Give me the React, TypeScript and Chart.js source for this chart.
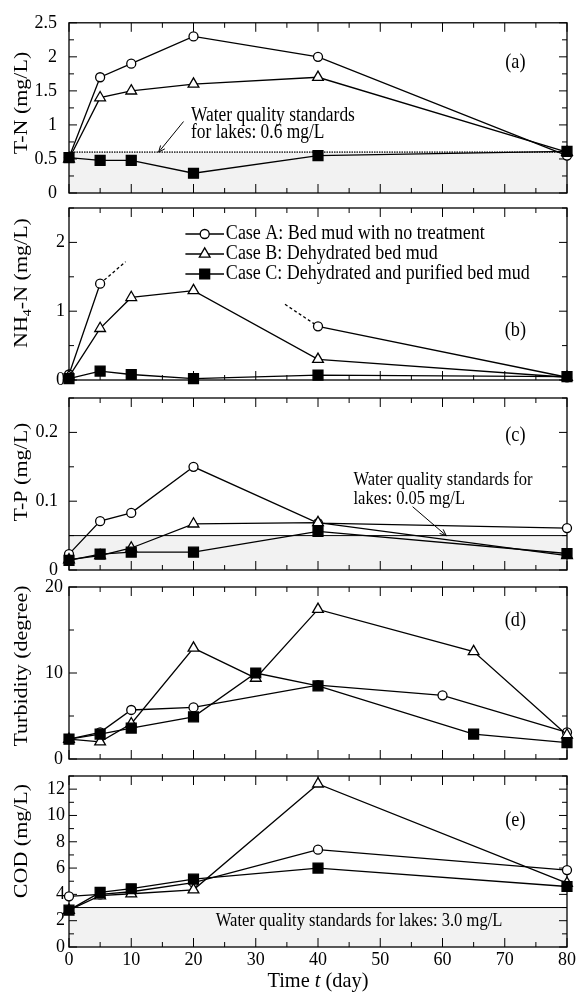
import React, { useEffect, useRef } from 'react';
import { Chart, registerables } from 'chart.js';

Chart.register(...registerables);

// ---------------- data ----------------
const DAYS = [0, 5, 10, 20, 40, 80];

const TN_A = [0.52, 1.7, 1.9, 2.3, 2.0, 0.55];
const TN_B = [0.5, 1.4, 1.5, 1.6, 1.7, 0.6];
const TN_C = [0.52, 0.48, 0.48, 0.29, 0.55, 0.61];
const STD_TN = 0.6;

const NH4_A = [0.08, 1.4, null, null, 0.78, 0.04];
const NH4_B = [0.05, 0.75, 1.2, 1.3, 0.3, 0.04];
const NH4_C = [0.02, 0.13, 0.08, 0.02, 0.07, 0.05];
// dashed continuations of Case A (values off the scale)
const NH4_A_UP_DAYS = [5, 9.1];
const NH4_A_UP = [1.4, 1.72];
const NH4_A_DOWN_DAYS = [34.7, 40];
const NH4_A_DOWN = [1.1, 0.78];

const TP_A = [0.023, 0.071, 0.083, 0.15, 0.068, 0.061];
const TP_B = [0.015, 0.021, 0.032, 0.067, 0.069, 0.021];
const TP_C = [0.014, 0.023, 0.026, 0.026, 0.056, 0.024];
const STD_TP = 0.05;

const TURB_A_DAYS = [0, 5, 10, 20, 40, 60, 80];
const TURB_A = [2.3, 3.1, 5.7, 6.0, 8.6, 7.4, 3.1];
const TURB_BC_DAYS = [0, 5, 10, 20, 30, 40, 65, 80];
const TURB_B = [2.3, 2.0, 4.1, 12.9, 9.4, 17.4, 12.5, 2.8];
const TURB_C = [2.3, 2.9, 3.6, 4.9, 10.0, 8.5, 2.9, 1.9];

const COD_A = [3.85, 4.0, 4.2, 4.9, 7.4, 5.85];
const COD_B = [2.8, 3.9, 4.05, 4.35, 12.4, 4.85];
const COD_C = [2.8, 4.15, 4.43, 5.16, 6.0, 4.6];
const STD_COD = 3.0;

const X_TICKS = [0, 10, 20, 30, 40, 50, 60, 70, 80];
const Y_TICKS_TN = [0, 0.5, 1, 1.5, 2, 2.5];
const Y_TICKS_NH4 = [0, 1, 2];
const Y_TICKS_TP = [0, 0.1, 0.2];
const Y_TICKS_TURB = [0, 10, 20];
const Y_TICKS_COD = [0, 2, 4, 6, 8, 10, 12];

const SERIES_LABELS = [
  'Case A: Bed mud with no treatment',
  'Case B: Dehydrated bed mud',
  'Case C: Dehydrated and purified bed mud',
];

// ---------------- layout / style ----------------
const W = 578;
const H = 992;
const PLOT_LEFT = 69;
const PLOT_RIGHT = 567;
const X_AXIS_H = 30;
const SHADE = '#f2f2f2';
const SX = 0.87;
const FAMILY = '"Liberation Serif", "Times New Roman", serif';
const font = (size: number, style = '') => `${style} ${size}px ${FAMILY}`.trim();

const MARKS: any = {
  A: { pointStyle: 'circle', radius: 4.5, bg: '#ffffff' },
  B: { pointStyle: 'triangle', radius: 6.2, bg: '#ffffff' },
  C: { pointStyle: 'rect', radius: 7, bg: '#000000' },
};

const pts = (xs: number[], ys: (number | null)[]) => xs.map((x, i) => ({ x, y: ys[i] }));

function series(key: 'A' | 'B' | 'C', xs: number[], ys: (number | null)[]) {
  const m = MARKS[key];
  return {
    label: key,
    data: pts(xs, ys),
    borderColor: '#000',
    borderWidth: 1.3,
    pointStyle: m.pointStyle,
    pointRadius: m.radius,
    pointBackgroundColor: m.bg,
    pointBorderColor: '#000',
    pointBorderWidth: 1.3,
    fill: false,
    tension: 0,
    spanGaps: false,
    clip: false,
    order: key === 'A' ? 3 : key === 'B' ? 2 : 1,
  };
}

function dashed(xs: number[], ys: number[]) {
  return {
    label: 'off-scale',
    data: pts(xs, ys),
    borderColor: '#000',
    borderWidth: 1.3,
    borderDash: [3, 2.5],
    pointRadius: 0,
    fill: false,
    clip: false,
    order: 4,
  };
}

const PANELS: any[] = [
  {
    id: 'a', top: 22, bottom: 193, yMax: 2.5, yTicks: Y_TICKS_TN, yMinor: 0.25, yPad: 12,
    title: [{ text: 'T-N (mg/L)' }], titleY: 103, label: '(a)', labelDy: 40,
    std: { value: STD_TN, dashed: true },
    datasets: [series('A', DAYS, TN_A), series('B', DAYS, TN_B), series('C', DAYS, TN_C)],
    notes: [{ lines: ['Water quality standards', 'for lakes: 0.6 mg/L'], t: 19.6, v: 1.06, gap: 17, align: 'left', size: 20 }],
    arrows: [{ from: [18.4, 1.05], to: [14.4, 0.6] }],
  },
  {
    id: 'b', top: 208, bottom: 380, yMax: 2.5, yTicks: Y_TICKS_NH4, yMinor: 0.5, yPad: 4,
    title: [{ text: 'NH' }, { text: '4', sub: true }, { text: '-N (mg/L)' }], titleY: 283, label: '(b)', labelDy: 122,
    datasets: [
      series('A', DAYS, NH4_A), series('B', DAYS, NH4_B), series('C', DAYS, NH4_C),
      dashed(NH4_A_UP_DAYS, NH4_A_UP), dashed(NH4_A_DOWN_DAYS, NH4_A_DOWN),
    ],
    legend: { t0: 18.7, t1: 24.9, tText: 25.2, rows: [234, 254, 274] },
  },
  {
    id: 'c', top: 398, bottom: 570, yMax: 0.25, yTicks: Y_TICKS_TP, yMinor: 0.05, yPad: 11,
    title: [{ text: 'T-P (mg/L)' }], titleY: 472, label: '(c)', labelDy: 37,
    std: { value: STD_TP, dashed: false },
    datasets: [series('A', DAYS, TP_A), series('B', DAYS, TP_B), series('C', DAYS, TP_C)],
    notes: [{ lines: ['Water quality standards for', 'lakes: 0.05 mg/L'], t: 45.7, v: 0.1235, gap: 19, align: 'left', size: 19 }],
    arrows: [{ from: [55.2, 0.092], to: [60.6, 0.05] }],
  },
  {
    id: 'd', top: 587, bottom: 759, yMax: 20, yTicks: Y_TICKS_TURB, yMinor: 5, yPad: 6,
    title: [{ text: 'Turbidity (degree)' }], titleY: 666, label: '(d)', labelDy: 33,
    datasets: [series('A', TURB_A_DAYS, TURB_A), series('B', TURB_BC_DAYS, TURB_B), series('C', TURB_BC_DAYS, TURB_C)],
  },
  {
    id: 'e', top: 776, bottom: 947, yMax: 13, yTicks: Y_TICKS_COD, yMinor: 1, yPad: 4,
    title: [{ text: 'COD (mg/L)' }], titleY: 841, label: '(e)', labelDy: 44,
    std: { value: STD_COD, dashed: false },
    datasets: [series('A', DAYS, COD_A), series('B', DAYS, COD_B), series('C', DAYS, COD_C)],
    notes: [{ lines: ['Water quality standards for lakes: 3.0 mg/L'], t: 46.6, v: 1.62, gap: 0, align: 'center', size: 19 }],
    showX: true,
  },
];

// ---------------- drawing helpers ----------------
type Part = { text: string; sub?: boolean; italic?: boolean };

function drawRich(ctx: CanvasRenderingContext2D, parts: Part[], x: number, y: number, size: number,
  opts: { align?: string; sx?: number; rotate?: boolean; baseline?: CanvasTextBaseline } = {}) {
  const align = opts.align || 'left';
  const sx = opts.sx ?? SX;
  ctx.save();
  ctx.translate(x, y);
  ctx.scale(sx, 1);
  if (opts.rotate) ctx.rotate(-Math.PI / 2);
  ctx.textBaseline = opts.baseline || 'alphabetic';
  ctx.textAlign = 'left';
  ctx.fillStyle = '#000';
  const fontOf = (p: Part) => font(p.sub ? Math.round(size * 0.65) : size, p.italic ? 'italic' : '');
  let total = 0;
  for (const p of parts) { ctx.font = fontOf(p); total += ctx.measureText(p.text).width; }
  let cx = align === 'center' ? -total / 2 : align === 'right' ? -total : 0;
  for (const p of parts) {
    ctx.font = fontOf(p);
    ctx.fillText(p.text, cx, p.sub ? size * 0.3 : 0);
    cx += ctx.measureText(p.text).width;
  }
  ctx.restore();
}

function line(ctx: CanvasRenderingContext2D, x1: number, y1: number, x2: number, y2: number) {
  ctx.beginPath();
  ctx.moveTo(x1, y1);
  ctx.lineTo(x2, y2);
  ctx.stroke();
}

function marker(ctx: CanvasRenderingContext2D, key: string, x: number, y: number) {
  const m = MARKS[key];
  ctx.save();
  ctx.lineWidth = 1.3;
  ctx.strokeStyle = '#000';
  ctx.fillStyle = m.bg;
  ctx.beginPath();
  if (m.pointStyle === 'circle') {
    ctx.arc(x, y, m.radius, 0, Math.PI * 2);
  } else if (m.pointStyle === 'triangle') {
    for (let i = 0; i < 3; i++) {
      const a = -Math.PI / 2 + i * (2 * Math.PI / 3);
      const px = x + Math.cos(a) * m.radius;
      const py = y + Math.sin(a) * m.radius;
      if (i === 0) ctx.moveTo(px, py); else ctx.lineTo(px, py);
    }
    ctx.closePath();
  } else {
    const s = m.radius * Math.SQRT1_2;
    ctx.rect(x - s, y - s, 2 * s, 2 * s);
  }
  ctx.fill();
  ctx.stroke();
  ctx.restore();
}

function decor(cfg: any) {
  return {
    id: 'decor_' + cfg.id,
    beforeDatasetsDraw(chart: any) {
      const { ctx, chartArea } = chart;
      const { left, right, top, bottom } = chartArea;
      const xs = chart.scales.x;
      const ys = chart.scales.y;
      ctx.save();
      if (cfg.std) {
        const yv = ys.getPixelForValue(cfg.std.value);
        ctx.fillStyle = SHADE;
        ctx.fillRect(left, yv, right - left, bottom - yv);
        if (cfg.std.dashed) {
          ctx.strokeStyle = '#444';
          ctx.lineWidth = 1.8;
          ctx.setLineDash([1.5, 1]);
        } else {
          ctx.strokeStyle = '#000';
          ctx.lineWidth = 1;
        }
        line(ctx, left, yv, right, yv);
        ctx.setLineDash([]);
      }
      // frame
      ctx.strokeStyle = '#000';
      ctx.lineWidth = 1.3;
      ctx.strokeRect(left, top, right - left, bottom - top);
      // x ticks (inward, top & bottom)
      ctx.lineWidth = 1;
      for (let t = 0; t <= 80; t += 5) {
        const px = xs.getPixelForValue(t);
        const L = X_TICKS.includes(t) ? 9 : 5;
        line(ctx, px, bottom, px, bottom - L);
        line(ctx, px, top, px, top + L);
      }
      // y ticks (inward, left & right)
      const n = Math.round(cfg.yMax / cfg.yMinor);
      for (let i = 0; i <= n; i++) {
        const v = i * cfg.yMinor;
        const py = ys.getPixelForValue(v);
        const major = cfg.yTicks.some((tv: number) => Math.abs(tv - v) < 1e-9);
        const L = major ? 8 : 5;
        line(ctx, left, py, left + L, py);
        line(ctx, right, py, right - L, py);
      }
      ctx.restore();
    },
    afterDraw(chart: any) {
      const { ctx, chartArea } = chart;
      const { left, right, top } = chartArea;
      const xs = chart.scales.x;
      const ys = chart.scales.y;
      ctx.save();
      // y axis title
      drawRich(ctx, cfg.title, 22, cfg.titleY, 22, { align: 'center', rotate: true, baseline: 'middle', sx: 0.85 });
      // panel label
      drawRich(ctx, [{ text: cfg.label }], xs.getPixelForValue(71.7), top + cfg.labelDy, 21, { align: 'center', baseline: 'middle' });
      // notes
      (cfg.notes || []).forEach((nt: any) => {
        const x0 = xs.getPixelForValue(nt.t);
        const y0 = ys.getPixelForValue(nt.v);
        nt.lines.forEach((s: string, i: number) => {
          drawRich(ctx, [{ text: s }], x0, y0 + i * nt.gap, nt.size, { align: nt.align });
        });
      });
      // arrows
      (cfg.arrows || []).forEach((ar: any) => {
        const x1 = xs.getPixelForValue(ar.from[0]);
        const y1 = ys.getPixelForValue(ar.from[1]);
        const x2 = xs.getPixelForValue(ar.to[0]);
        const y2 = ys.getPixelForValue(ar.to[1]);
        ctx.strokeStyle = '#000';
        ctx.lineWidth = 1;
        line(ctx, x1, y1, x2, y2);
        const ang = Math.atan2(y2 - y1, x2 - x1);
        const hl = 7;
        for (const s of [-1, 1]) {
          line(ctx, x2, y2, x2 - hl * Math.cos(ang + s * 0.4), y2 - hl * Math.sin(ang + s * 0.4));
        }
      });
      // legend
      if (cfg.legend) {
        const lg = cfg.legend;
        const lx0 = xs.getPixelForValue(lg.t0);
        const lx1 = xs.getPixelForValue(lg.t1);
        const tx = xs.getPixelForValue(lg.tText);
        ['A', 'B', 'C'].forEach((k, i) => {
          const yy = lg.rows[i];
          ctx.strokeStyle = '#000';
          ctx.lineWidth = 1.3;
          line(ctx, lx0, yy, lx1, yy);
          marker(ctx, k, (lx0 + lx1) / 2, yy);
          drawRich(ctx, [{ text: SERIES_LABELS[i] }], tx, yy, 20, { baseline: 'middle', sx: 0.9 });
        });
      }
      // x axis title
      if (cfg.showX) {
        drawRich(ctx, [{ text: 'Time ' }, { text: 't', italic: true }, { text: ' (day)' }],
          (left + right) / 2, 987, 21, { align: 'center', sx: 0.97 });
      }
      ctx.restore();
    },
  };
}

function buildConfig(cfg: any): any {
  const bottomPad = cfg.showX ? H - cfg.bottom - X_AXIS_H : H - cfg.bottom;
  return {
    type: 'line',
    data: { datasets: cfg.datasets },
    options: {
      animation: false,
      responsive: false,
      devicePixelRatio: 1,
      events: [],
      layout: { padding: { left: 0, right: W - PLOT_RIGHT, top: cfg.top, bottom: bottomPad } },
      plugins: { legend: { display: false }, tooltip: { enabled: false } },
      scales: {
        x: {
          type: 'linear',
          min: 0,
          max: 80,
          display: !!cfg.showX,
          afterBuildTicks: (s: any) => { s.ticks = X_TICKS.map((v) => ({ value: v })); },
          afterFit: (s: any) => { s.height = cfg.showX ? X_AXIS_H : 0; },
          ticks: { color: '#000', font: { family: FAMILY, size: 18 }, padding: 2, maxRotation: 0, autoSkip: false, callback: (v: any) => String(v) },
          grid: { display: false, drawTicks: false },
          border: { display: false },
        },
        y: {
          type: 'linear',
          min: 0,
          max: cfg.yMax,
          afterBuildTicks: (s: any) => { s.ticks = cfg.yTicks.map((v: number) => ({ value: v })); },
          afterFit: (s: any) => { s.width = PLOT_LEFT; },
          ticks: { color: '#000', font: { family: FAMILY, size: 18 }, padding: cfg.yPad, callback: (v: any) => String(v) },
          grid: { display: false, drawTicks: false },
          border: { display: false },
        },
      },
    },
    plugins: [decor(cfg)],
  };
}

function Panel({ cfg }: { cfg: any }) {
  const ref = useRef<HTMLCanvasElement>(null);
  useEffect(() => {
    if (!ref.current) return;
    const chart = new Chart(ref.current, buildConfig(cfg));
    return () => chart.destroy();
  }, [cfg]);
  return (
    <canvas
      ref={ref}
      width={W}
      height={H}
      style={{ position: 'absolute', left: 0, top: 0, width: W, height: H }}
    />
  );
}

export default function App() {
  return (
    <div style={{ position: 'absolute', left: 0, top: 0, width: W, height: H, background: '#fff', overflow: 'hidden' }}>
      {PANELS.map((p) => (
        <Panel key={p.id} cfg={p} />
      ))}
    </div>
  );
}
